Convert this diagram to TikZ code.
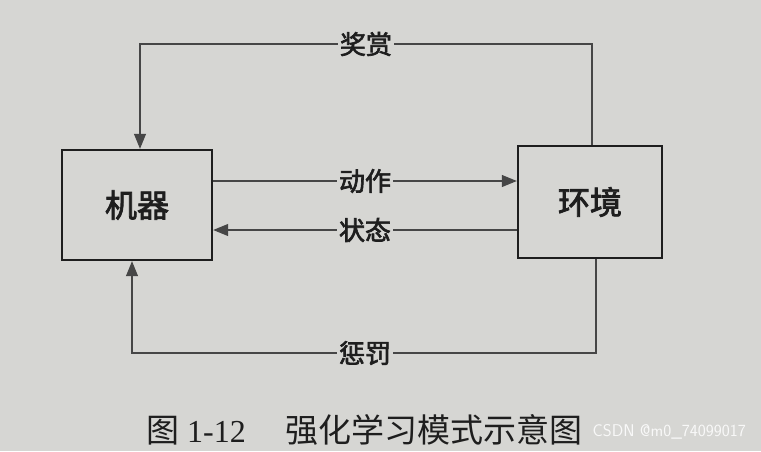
\documentclass[tikz,border=0pt]{standalone}
\usepackage{fontspec}
\setmainfont{Liberation Serif}
\newfontfamily\cjk{Noto Sans CJK SC}
\newfontfamily\cjkb{Noto Sans CJK SC}[FakeBold=2.5]
\usetikzlibrary{arrows.meta}
\definecolor{paper}{RGB}{214,214,211}
\definecolor{ink}{RGB}{30,30,30}
\definecolor{linec}{RGB}{70,70,70}
\tikzset{
  box/.style={draw=ink, line width=2.4pt, minimum width=150pt, minimum height=110pt, font=\cjkb\fontsize{32}{32}\selectfont, text=ink},
  lab/.style={fill=paper, inner sep=2pt, font=\cjkb\fontsize{26}{26}\selectfont, text=ink},
  conn/.style={draw=linec, line width=1.1pt, -{Triangle[length=15pt,width=12pt]}},
}
\begin{document}
\begin{tikzpicture}[x=1pt,y=-1pt]
\fill[paper] (0,0) rectangle (761,451);
\useasboundingbox (0,0) rectangle (761,451);
\node[box] (m) at (137,205) {机器};
\node[box, minimum width=144pt, minimum height=112pt] (e) at (590,202) {环境};
% action and state
\coordinate (a1) at (m.east |- 0,181);
\coordinate (a2) at (e.west |- 0,181);
\draw[conn] (a1) -- (a2) node[lab, pos=0.5] (act) {动作};
\coordinate (s1) at (e.west |- 0,230);
\coordinate (s2) at (m.east |- 0,230);
\draw[conn] (s1) -- (s2) node[lab, pos=0.5] (st) {状态};
% reward loop
\coordinate (r0) at (592,0 |- e.north);
\coordinate (r2) at (140,44);
\coordinate (r3) at (140,0 |- m.north);
\draw[conn] (r0) |- (r2) -- (r3);
\node[lab] (rw) at (366,44) {奖赏};
% punish loop
\coordinate (p0) at (596,0 |- e.south);
\coordinate (p2) at (132,353);
\coordinate (p3) at (132,0 |- m.south);
\draw[conn] (p0) |- (p2) -- (p3);
\node[lab] (pn) at (365,353) {惩罚};
% caption
\node[anchor=west, text=ink, inner sep=0pt, font=\fontsize{32}{32}\selectfont] (cap) at (146,430) {{\cjk\fontsize{33}{33}\selectfont 图} 1-12\hspace{40pt}{\cjk\fontsize{33}{33}\selectfont 强化学习模式示意图}};
\node[anchor=east, text=white, opacity=0.85, inner sep=0pt, font=\fontsize{17}{17}\selectfont\sffamily] (wm) at (746,432) {CSDN @m0\_74099017};
\end{tikzpicture}
\end{document}
